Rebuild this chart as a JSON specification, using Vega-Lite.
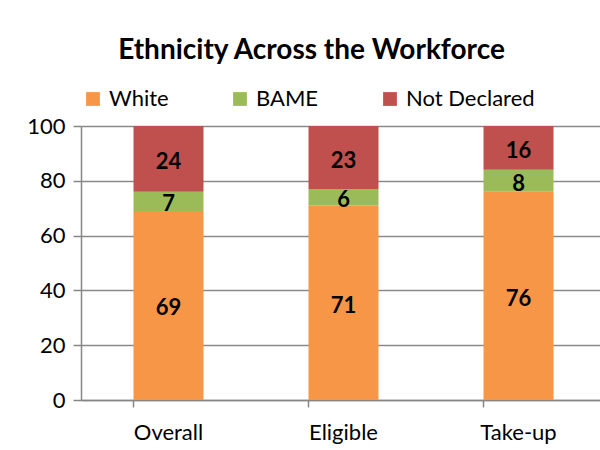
{
  "$schema": "https://vega.github.io/schema/vega-lite/v6.json",
  "width": 525,
  "height": 274,
  "autosize": {"type": "none"},
  "padding": {"left": 81, "top": 126, "right": 0, "bottom": 50},
  "background": "white",
  "config": {"font": "Lato", "view": {"stroke": null}},
  "title": {
    "text": "Ethnicity Across the Workforce",
    "fontSize": 28,
    "fontWeight": "bold",
    "color": "black",
    "anchor": "middle",
    "frame": "group",
    "dx": -32,
    "baseline": "alphabetic",
    "offset": 1
  },
  "data": {
    "values": [
      {"cat": "Overall", "group": "White", "ord": 1, "value": 69},
      {"cat": "Overall", "group": "BAME", "ord": 2, "value": 7},
      {"cat": "Overall", "group": "Not Declared", "ord": 3, "value": 24},
      {"cat": "Eligible", "group": "White", "ord": 1, "value": 71},
      {"cat": "Eligible", "group": "BAME", "ord": 2, "value": 6},
      {"cat": "Eligible", "group": "Not Declared", "ord": 3, "value": 23},
      {"cat": "Take-up", "group": "White", "ord": 1, "value": 76},
      {"cat": "Take-up", "group": "BAME", "ord": 2, "value": 8},
      {"cat": "Take-up", "group": "Not Declared", "ord": 3, "value": 16}
    ]
  },
  "transform": [
    {"stack": "value", "groupby": ["cat"], "sort": [{"field": "ord", "order": "ascending"}], "as": ["v0", "v1"]},
    {"calculate": "(datum.v0 + datum.v1) / 2", "as": "mid"}
  ],
  "encoding": {
    "x": {
      "field": "cat",
      "type": "nominal",
      "sort": ["Overall", "Eligible", "Take-up"],
      "scale": {"paddingInner": 0.6, "paddingOuter": 0.3},
      "axis": {
        "title": null,
        "labelAngle": 0,
        "labelFontSize": 22,
        "labelColor": "black",
        "labelPadding": 15,
        "bandPosition": 0,
        "domainColor": "#868686",
        "domainWidth": 1.5,
        "tickColor": "#868686",
        "tickWidth": 1.5,
        "tickSize": 7
      }
    }
  },
  "layer": [
    {
      "mark": {"type": "bar"},
      "encoding": {
        "y": {
          "field": "v0",
          "type": "quantitative",
          "scale": {"domain": [0, 100]},
          "axis": {
            "title": null,
            "values": [0, 20, 40, 60, 80, 100],
            "labelFontSize": 22,
            "labelColor": "black",
            "labelPadding": 8,
            "grid": true,
            "gridColor": "#8a8a8a",
            "gridWidth": 1.5,
            "domainColor": "#868686",
            "domainWidth": 1.5,
            "tickColor": "#868686",
            "tickWidth": 1.5,
            "tickSize": 8
          }
        },
        "y2": {"field": "v1"},
        "color": {
          "field": "group",
          "type": "nominal",
          "sort": ["White", "BAME", "Not Declared"],
          "scale": {"domain": ["White", "BAME", "Not Declared"], "range": ["#F79646", "#9BBB59", "#C0504D"]},
          "legend": {
            "title": null,
            "orient": "none",
            "legendX": 1,
            "legendY": -38,
            "direction": "horizontal",
            "symbolType": "square",
            "symbolSize": 190,
            "symbolStrokeWidth": 0,
            "labelFontSize": 22,
            "labelColor": "black",
            "labelOffset": 5,
            "columnPadding": 60
          }
        }
      }
    },
    {
      "mark": {"type": "text", "fontWeight": "bold", "fontSize": 22, "color": "black", "dy": 3},
      "encoding": {
        "y": {"field": "mid", "type": "quantitative"},
        "text": {"field": "value", "type": "quantitative"}
      }
    }
  ]
}
